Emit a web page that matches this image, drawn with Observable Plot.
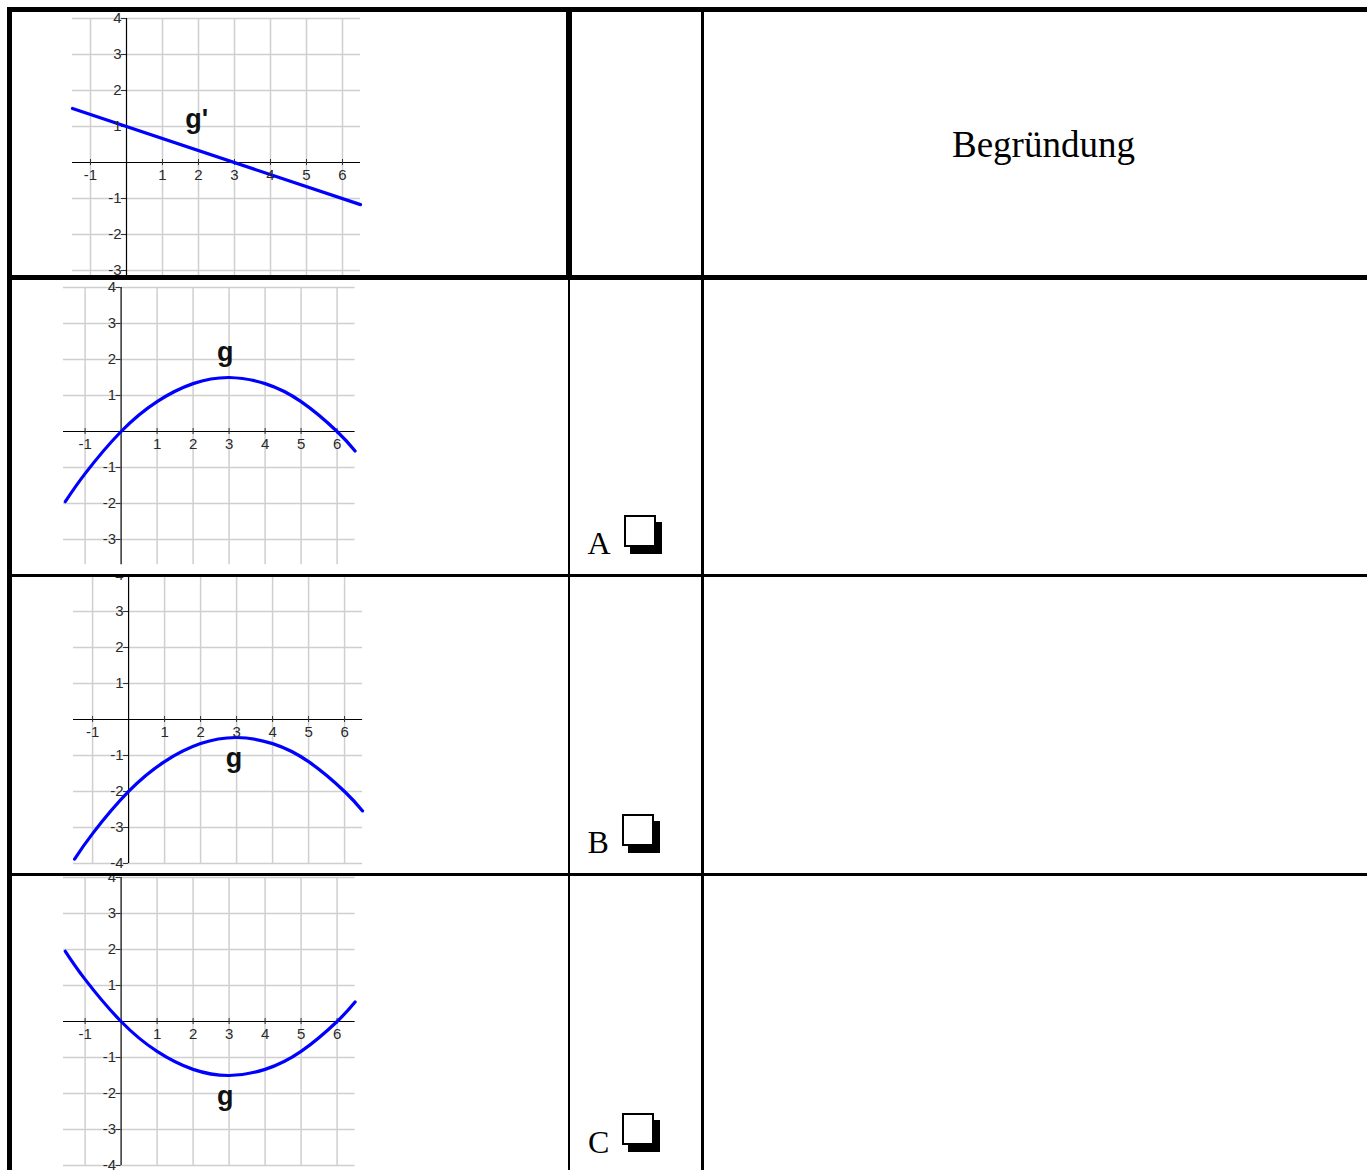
<!DOCTYPE html>
<html>
<head>
<meta charset="utf-8">
<script src="https://cdn.jsdelivr.net/npm/d3@7"></script>
<script src="https://cdn.jsdelivr.net/npm/@observablehq/plot@0.6"></script>
<style>
  html, body { margin: 0; padding: 0; background: #fff; }
  #sheet { position: relative; width: 1367px; height: 1170px; overflow: hidden; background: #fff; }
  .cell { position: absolute; overflow: hidden; }
  .cell svg { position: absolute; max-width: none !important; }
  .rule { position: absolute; background: #000; z-index: 5; }
  .txt { position: absolute; font-family: 'Liberation Serif', 'Times New Roman', serif; line-height: 1; white-space: nowrap; color: #000; }
  .box { position: absolute; box-sizing: border-box; width: 32px; height: 32px; border: 2px solid #000; background: #fff; box-shadow: 6px 7px 0 #000; }
</style>
</head>
<body>
<div id="sheet"></div>
<script>
// ---- values ----------------------------------------------------------
const xTicks = [-1, 1, 2, 3, 4, 5, 6];
const yTicks = [-4, -3, -2, -1, 1, 2, 3, 4];
const gridX = [-1, 1, 2, 3, 4, 5, 6];
const gridY = [-4, -3, -2, -1, 1, 2, 3, 4];

// derivative g' (straight line)
const derivX = [-1.5, 6.5];
const derivY = [1.5, -1.17];

// candidate graphs of g
const curveAX = [-1.55, -1, 0, 1, 2, 3, 4, 5, 6, 6.5];
const curveAY = [-1.95, -1.17, 0, 0.83, 1.33, 1.5, 1.33, 0.83, 0, -0.54];
const curveBX = [-1.5, -1, 0, 1, 2, 3, 4, 5, 6, 6.5];
const curveBY = [-3.88, -3.17, -2, -1.17, -0.67, -0.5, -0.67, -1.17, -2, -2.54];
const curveCX = [-1.55, -1, 0, 1, 2, 3, 4, 5, 6, 6.5];
const curveCY = [1.95, 1.17, 0, -0.83, -1.33, -1.5, -1.33, -0.83, 0, 0.54];

const curveNames = ["g'", "g", "g", "g"];
const curveNameX = [1.95, 2.89, 2.93, 2.89];
const curveNameY = [0.97, 1.96, -1.33, -2.31];

const choices = ["A", "B", "C"];
const header = "Begründung";

// ---- layout ----------------------------------------------------------
const UNIT = 36; // pixels per unit on both axes
const M = {left: 0, right: 2, top: 10, bottom: 10};

// one entry per table row: clip box of the first cell, and where the origin sits
const rows = [
  {cell: [12, 12, 554, 263], origin: [126, 162.3], xDomain: [-1.5, 6.5], yDomain: [-4, 4]},
  {cell: [12, 280, 556, 294], origin: [121, 431], xDomain: [-1.6, 6.5], yDomain: [-3.7, 4]},
  {cell: [12, 577, 556, 296], origin: [128, 719.3], xDomain: [-1.53, 6.5], yDomain: [-4, 4]},
  {cell: [12, 876, 556, 294], origin: [121, 1021], xDomain: [-1.6, 6.5], yDomain: [-4, 4]}
];

const series = [
  {x: derivX, y: derivY, curve: "linear"},
  {x: curveAX, y: curveAY, curve: "natural"},
  {x: curveBX, y: curveBY, curve: "natural"},
  {x: curveCX, y: curveCY, curve: "natural"}
];

const sheet = document.getElementById("sheet");

// stretch a text element about its own anchor point
function stretch(el, sx, sy) {
  const t = el.getAttribute("transform");
  if (t) {
    el.setAttribute("transform", t + ` scale(${sx},${sy})`);
  } else {
    const x = +(el.getAttribute("x") || 0), y = +(el.getAttribute("y") || 0);
    el.setAttribute("x", 0);
    el.setAttribute("y", 0);
    el.setAttribute("transform", `translate(${x},${y}) scale(${sx},${sy})`);
  }
}

function graph(i) {
  const r = rows[i];
  const s = series[i];
  const pts = s.x.map((x, j) => ({x, y: s.y[j]}));
  const yT = yTicks.filter(v => v >= r.yDomain[0] && v <= r.yDomain[1]);
  const gY = gridY.filter(v => v >= r.yDomain[0] && v <= r.yDomain[1]);
  const width = (r.xDomain[1] - r.xDomain[0]) * UNIT + M.left + M.right;
  const height = (r.yDomain[1] - r.yDomain[0]) * UNIT + M.top + M.bottom;
  const svg = Plot.plot({
    width, height,
    marginLeft: M.left, marginRight: M.right, marginTop: M.top, marginBottom: M.bottom,
    x: {domain: r.xDomain, axis: null},
    y: {domain: r.yDomain, axis: null},
    style: {fontFamily: "'Liberation Sans', Arial, sans-serif", background: "white", overflow: "visible"},
    marks: [
      Plot.ruleX(gridX, {x: d => d, stroke: "#cfcfcf", strokeWidth: 1.5}),
      Plot.ruleY(gY, {y: d => d, stroke: "#cfcfcf", strokeWidth: 1.5}),
      Plot.ruleY([0], {y: d => d, stroke: "#000", strokeWidth: 1.2}),
      Plot.ruleX([0], {x: d => d, stroke: "#000", strokeWidth: 1.2}),
      Plot.ruleY(yT, {y: d => d, x1: d => 0, x2: d => 0, insetLeft: -5, stroke: "#333", strokeWidth: 1}),
      Plot.ruleX(xTicks, {x: d => d, y1: d => 0, y2: d => 0, insetTop: -3, insetBottom: -3, stroke: "#333", strokeWidth: 1}),
      Plot.line(pts, {x: "x", y: "y", curve: s.curve, stroke: "#0000ff", strokeWidth: 3.2}),
      Plot.text(xTicks, {x: d => d, y: d => 0, text: d => String(d), dy: 12.5, fontSize: 15, fill: "#2a2a2a", ariaLabel: "tick-label"}),
      Plot.text(yT, {x: d => 0, y: d => d, text: d => String(d), dx: -5, textAnchor: "end", fontSize: 15, fill: "#2a2a2a", ariaLabel: "tick-label"}),
      Plot.text([curveNames[i]], {x: () => curveNameX[i], y: () => curveNameY[i], text: d => d, lineAnchor: "bottom", fontSize: 27, fontWeight: "bold", fill: "#111", ariaLabel: "curve-name"})
    ]
  });
  // the tick numerals are tall and narrow
  svg.querySelectorAll('g[aria-label="tick-label"] text').forEach(el => stretch(el, 0.88, 1.12));

  const cell = document.createElement("div");
  cell.className = "cell";
  const [cl, ct, cw, ch] = r.cell;
  Object.assign(cell.style, {left: cl + "px", top: ct + "px", width: cw + "px", height: ch + "px"});
  const left = r.origin[0] + r.xDomain[0] * UNIT - M.left;
  const top = r.origin[1] - r.yDomain[1] * UNIT - M.top;
  svg.style.left = (left - cl) + "px";
  svg.style.top = (top - ct) + "px";
  cell.appendChild(svg);
  sheet.appendChild(cell);
}

rows.forEach((_, i) => graph(i));

// ---- table frame -----------------------------------------------------
const lines = [
  [7, 7, 1360, 5],      // top border
  [7, 7, 5, 1163],      // left border
  [7, 275, 1360, 5],    // under the header row
  [7, 574, 1360, 3],
  [7, 873, 1360, 3],
  [566, 7, 6, 273],     // first column divider, header row
  [568, 280, 2, 890],   // first column divider, body rows
  [701, 7, 3, 1163]     // second column divider
];
lines.forEach(([l, t, w, h]) => {
  const d = document.createElement("div");
  d.className = "rule";
  Object.assign(d.style, {left: l + "px", top: t + "px", width: w + "px", height: h + "px"});
  sheet.appendChild(d);
});

function addText(str, left, baseline, size) {
  const d = document.createElement("div");
  d.className = "txt";
  d.textContent = str;
  d.style.fontSize = size + "px";
  d.style.left = left + "px";
  d.style.top = (baseline - 0.8375 * size) + "px";
  sheet.appendChild(d);
}

addText(header, 952, 157, 37);

const choiceLeft = [587.5, 587.5, 588];
const choiceBaseline = [554, 853, 1153];
const boxPos = [[624, 515], [622, 814], [622, 1113]];
choices.forEach((c, i) => {
  addText(c, choiceLeft[i], choiceBaseline[i], 32);
  const b = document.createElement("div");
  b.className = "box";
  b.style.left = boxPos[i][0] + "px";
  b.style.top = boxPos[i][1] + "px";
  sheet.appendChild(b);
});
</script>
</body>
</html>
